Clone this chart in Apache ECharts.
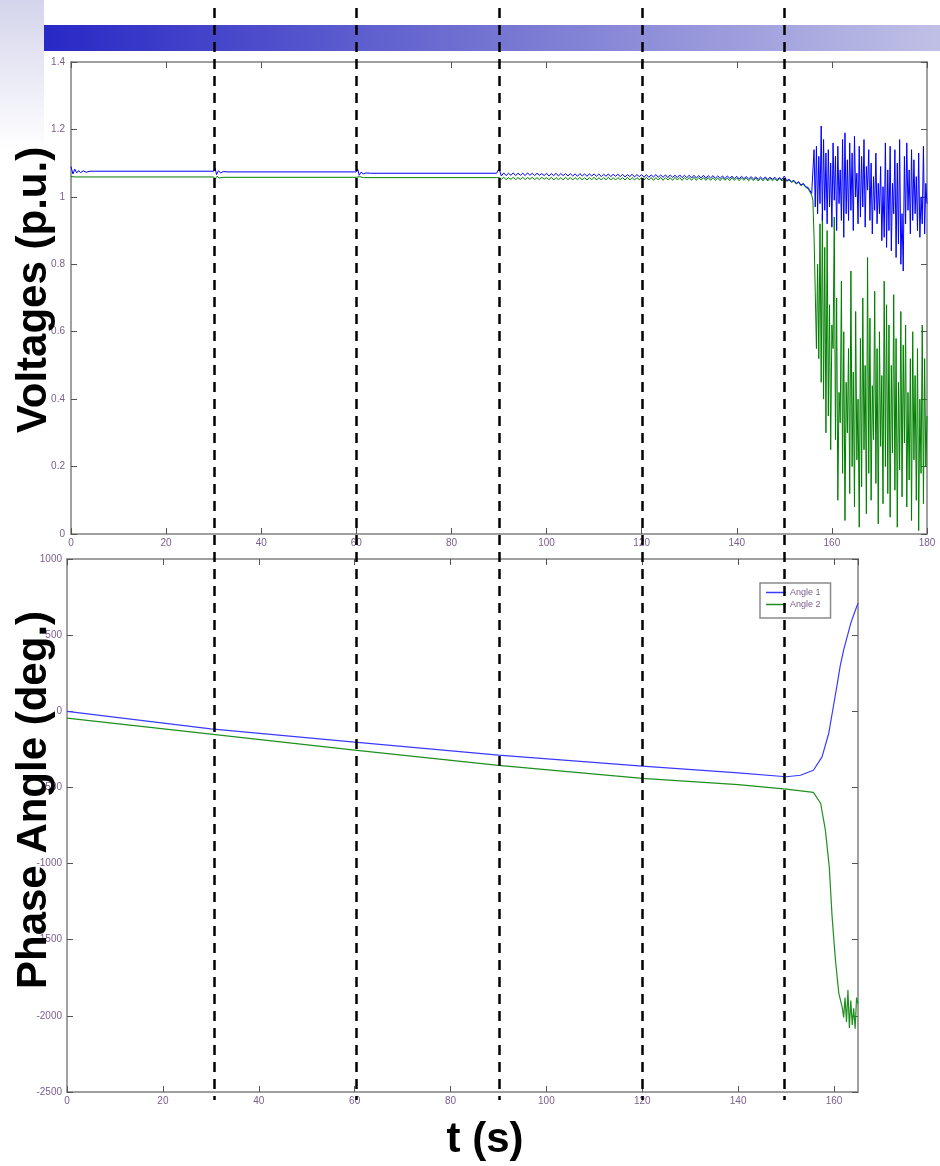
<!DOCTYPE html>
<html>
<head>
<meta charset="utf-8">
<title>Voltages and Phase Angles</title>
<script src="https://cdn.jsdelivr.net/npm/echarts@6/dist/echarts.min.js"></script>
<style>
  html, body { margin: 0; padding: 0; background: #ffffff; }
  #chart { width: 940px; height: 1166px; }
</style>
</head>
<body>
<div id="chart"></div>
<script>
// ---- Voltage traces (p.u.) ----
// Quiet period 0-90 s: sparse samples (time, value)
const volt1EarlyT = [0, 0.4, 0.8, 1.2, 1.6, 2.0, 2.6, 3.2, 4, 5, 30, 30.3, 30.6, 31, 31.5, 32, 33, 60, 60.3, 60.6, 61, 61.5, 62, 63, 89.5];
const volt1Early  = [1.090, 1.068, 1.082, 1.071, 1.078, 1.072, 1.077, 1.073, 1.076, 1.076, 1.076, 1.086, 1.066, 1.077, 1.071, 1.075, 1.074, 1.074, 1.082, 1.064, 1.073, 1.068, 1.071, 1.070, 1.070];
const volt2EarlyT = [0, 1, 30, 30.3, 30.7, 31.2, 32, 60, 60.3, 60.7, 61.5, 89.5];
const volt2Early  = [1.060, 1.059, 1.059, 1.053, 1.061, 1.056, 1.058, 1.058, 1.054, 1.060, 1.057, 1.057];

// Oscillating period 90-155 s, sampled every 0.5 s
const oscStart = 90, oscStep = 0.5;
const volt1Osc = [
  1.083, 1.062, 1.071, 1.063, 1.070, 1.064, 1.071, 1.063, 1.070, 1.064,
  1.070, 1.063, 1.071, 1.064, 1.070, 1.063, 1.070, 1.064, 1.069, 1.063,
  1.070, 1.062, 1.069, 1.063, 1.070, 1.062, 1.069, 1.063, 1.069, 1.062,
  1.069, 1.062, 1.068, 1.061, 1.069, 1.062, 1.068, 1.061, 1.068, 1.062,
  1.068, 1.061, 1.068, 1.060, 1.067, 1.061, 1.068, 1.060, 1.067, 1.061,
  1.067, 1.060, 1.067, 1.059, 1.066, 1.060, 1.067, 1.059, 1.066, 1.060,
  1.066, 1.058, 1.066, 1.058, 1.065, 1.059, 1.066, 1.058, 1.065, 1.058,
  1.065, 1.057, 1.065, 1.058, 1.064, 1.057, 1.065, 1.057, 1.064, 1.057,
  1.064, 1.056, 1.064, 1.056, 1.063, 1.056, 1.064, 1.055, 1.063, 1.056,
  1.063, 1.055, 1.062, 1.055, 1.062, 1.054, 1.062, 1.055, 1.061, 1.054,
  1.061, 1.053, 1.061, 1.054, 1.060, 1.053, 1.060, 1.053, 1.059, 1.052,
  1.059, 1.052, 1.059, 1.051, 1.058, 1.052, 1.058, 1.051, 1.057, 1.051,
  1.062, 1.048, 1.052, 1.045, 1.049, 1.040, 1.045, 1.035, 1.040, 1.030,
  1.028
];
const volt2Osc = [
  1.057, 1.052, 1.058, 1.051, 1.057, 1.052, 1.058, 1.051, 1.057, 1.052,
  1.058, 1.051, 1.057, 1.052, 1.058, 1.051, 1.057, 1.051, 1.058, 1.052,
  1.057, 1.051, 1.058, 1.050, 1.057, 1.051, 1.057, 1.050, 1.058, 1.051,
  1.057, 1.050, 1.057, 1.051, 1.058, 1.050, 1.057, 1.050, 1.057, 1.051,
  1.058, 1.050, 1.057, 1.050, 1.057, 1.051, 1.058, 1.050, 1.057, 1.050,
  1.057, 1.051, 1.057, 1.050, 1.058, 1.050, 1.057, 1.050, 1.057, 1.051,
  1.057, 1.050, 1.058, 1.050, 1.057, 1.049, 1.057, 1.050, 1.058, 1.049,
  1.057, 1.050, 1.057, 1.049, 1.058, 1.050, 1.057, 1.049, 1.057, 1.050,
  1.057, 1.049, 1.058, 1.049, 1.057, 1.050, 1.057, 1.049, 1.057, 1.049,
  1.057, 1.049, 1.056, 1.048, 1.057, 1.049, 1.056, 1.048, 1.057, 1.049,
  1.056, 1.048, 1.056, 1.049, 1.056, 1.048, 1.055, 1.048, 1.056, 1.047,
  1.055, 1.048, 1.055, 1.047, 1.055, 1.048, 1.054, 1.047, 1.055, 1.047,
  1.054, 1.046, 1.050, 1.043, 1.047, 1.038, 1.043, 1.033, 1.038, 1.028,
  1.024
];

// Collapse 155.25-180 s, sampled every 0.25 s
const chaosStart = 155.25, chaosStep = 0.25;
const volt1Chaos = [
  1.022, 1.025, 1.010, 1.005, 1.14, 0.97, 1.15, 0.95, 1.12, 0.98, 1.21, 0.93,
  1.17, 0.96, 1.13, 0.92, 1.14, 0.97, 1.10, 0.91, 1.16, 0.99, 1.12, 0.90,
  1.15, 0.98, 1.08, 0.93, 1.17, 0.88, 1.19, 0.95, 1.11, 0.93, 1.16, 0.96,
  1.13, 0.90, 1.18, 1.00, 1.07, 0.92, 1.15, 0.94, 1.12, 0.97, 1.17, 0.91,
  1.09, 1.02, 1.14, 0.93, 1.10, 0.89, 1.06, 0.96, 1.13, 0.92, 1.04, 0.95,
  1.09, 0.87, 1.03, 0.88, 1.16, 0.85, 1.08, 0.90, 1.15, 0.84, 1.04, 0.95,
  1.14, 0.82, 1.10, 0.86, 1.17, 0.80, 0.95, 0.78, 1.12, 0.92, 1.16, 0.96,
  1.08, 0.89, 1.14, 0.93, 1.11, 0.95, 1.06, 0.90, 1.13, 0.88, 1.00, 0.92,
  1.15, 0.89, 1.04, 0.98
];
const volt2Chaos = [
  1.018, 1.020, 1.005, 0.99, 0.88, 0.72, 0.55, 0.80, 0.52, 0.92, 0.45, 0.95,
  0.40, 0.85, 0.30, 0.90, 0.35, 0.68, 0.25, 0.62, 0.55, 0.94, 0.28, 0.70,
  0.10, 0.42, 0.33, 0.75, 0.18, 0.60, 0.04, 0.45, 0.30, 0.55, 0.12, 0.78,
  0.20, 0.48, 0.08, 0.66, 0.22, 0.40, 0.02, 0.58, 0.14, 0.70, 0.25, 0.50,
  0.06, 0.82, 0.18, 0.64, 0.10, 0.44, 0.28, 0.72, 0.15, 0.55, 0.03, 0.60,
  0.26, 0.47, 0.09, 0.75, 0.20, 0.68, 0.12, 0.62, 0.05, 0.50, 0.24, 0.71,
  0.13, 0.58, 0.02, 0.45, 0.19, 0.66, 0.11, 0.56, 0.27, 0.62, 0.08, 0.42,
  0.16, 0.52, 0.04, 0.60, 0.22, 0.47, 0.10, 0.55, 0.01, 0.40, 0.18, 0.62,
  0.09, 0.52, 0.20, 0.35
];

// ---- Phase angle traces (deg.) ----
const angle1T = [0, 30, 60, 90, 120, 140, 150, 153, 155.7, 157.5, 158.9, 159.8, 160.7, 161.3, 162, 163.5, 164.3, 165];
const angle1  = [0, -115, -202, -288, -360, -404, -430, -420, -387, -299, -144, 20, 185, 300, 402, 579, 650, 710];
const angle2T = [0, 30, 60, 90, 120, 140, 150, 155.7, 157.2, 158.2, 159, 159.6, 160.3, 161, 161.7, 162.0, 162.3, 162.6, 162.9, 163.2, 163.5, 163.8, 164.1, 164.4, 164.7, 165];
const angle2  = [-45, -150, -255, -355, -440, -481, -511, -533, -604, -781, -1020, -1350, -1635, -1852, -1942, -2010, -1880, -2040, -1830, -2080, -1900, -2060, -1950, -2085, -1880, -1920];

// ---- Axes and annotations ----
const voltTicks = { min: 0, max: 1.4, interval: 0.2 };
const voltTime  = { min: 0, max: 180, interval: 20 };
const angleTicks = { min: -2500, max: 1000, interval: 500 };
const angleTime  = { min: 0, max: 165, interval: 20 };
const eventTimes = [30, 60, 90, 120, 150];
const seriesNames = ['Volt 1', 'Volt 2', 'Angle 1', 'Angle 2'];

function zip(ts, vs) { return ts.map((t, i) => [t, vs[i]]); }
function sampled(start, step, vs) { return vs.map((v, i) => [+(start + i * step).toFixed(3), v]); }

const volt1Data = zip(volt1EarlyT, volt1Early)
  .concat(sampled(oscStart, oscStep, volt1Osc))
  .concat(sampled(chaosStart, chaosStep, volt1Chaos));
const volt2Data = zip(volt2EarlyT, volt2Early)
  .concat(sampled(oscStart, oscStep, volt2Osc))
  .concat(sampled(chaosStart, chaosStep, volt2Chaos));

const AXIS_GRAY = '#808080';
const LABEL_COLOR = '#7a6090';
const LABEL_FONT = 'Liberation Sans, Arial, sans-serif';

function plainNumber(v) { return String(+v.toFixed(6)); }

function axisBase(range, opts) {
  return Object.assign({
    type: 'value',
    min: range.min, max: range.max, interval: range.interval,
    splitLine: { show: false },
    axisLine: { show: true, onZero: false, lineStyle: { color: AXIS_GRAY, width: 1.5 } },
    axisTick: { show: true, inside: true, length: 6, lineStyle: { color: '#555555', width: 1 } },
    axisLabel: { show: true, color: LABEL_COLOR, fontSize: 10, fontFamily: LABEL_FONT, margin: 4, formatter: plainNumber }
  }, opts || {});
}
function mirror(range, position, gridIndex) {
  return axisBase(range, { position: position, gridIndex: gridIndex, axisLabel: { show: false } });
}

const chart = echarts.init(document.getElementById('chart'), null, { renderer: 'canvas' });

const option = {
  animation: false,
  backgroundColor: '#ffffff',
  grid: [
    { left: 71, top: 62, width: 856, height: 472 },
    { left: 67, top: 559, width: 791, height: 533 }
  ],
  xAxis: [
    axisBase(voltTime, { gridIndex: 0, position: 'bottom' }),
    mirror(voltTime, 'top', 0),
    axisBase(angleTime, { gridIndex: 1, position: 'bottom',
      axisLabel: { color: LABEL_COLOR, fontSize: 10, fontFamily: LABEL_FONT, margin: 4,
        showMaxLabel: false, formatter: v => (v % 20 === 0 ? String(v) : '') } }),
    mirror(angleTime, 'top', 1)
  ],
  yAxis: [
    axisBase(voltTicks, { gridIndex: 0, position: 'left',
      axisLabel: { color: LABEL_COLOR, fontSize: 10, fontFamily: LABEL_FONT, margin: 6, formatter: plainNumber } }),
    mirror(voltTicks, 'right', 0),
    axisBase(angleTicks, { gridIndex: 1, position: 'left',
      axisLabel: { color: LABEL_COLOR, fontSize: 10, fontFamily: LABEL_FONT, margin: 5, formatter: plainNumber } }),
    mirror(angleTicks, 'right', 1)
  ],
  legend: {
    data: ['Angle 1', 'Angle 2'],
    left: 760, top: 583,
    orient: 'vertical',
    icon: 'rect',
    itemWidth: 20, itemHeight: 1.5, itemGap: 3,
    padding: [5, 10, 9, 6],
    borderColor: '#8a8a8a', borderWidth: 1.5, backgroundColor: '#ffffff',
    textStyle: { color: LABEL_COLOR, fontSize: 9, fontFamily: LABEL_FONT, padding: [0, 0, 0, -1] }
  },
  series: [
    { name: seriesNames[0], type: 'line', xAxisIndex: 0, yAxisIndex: 0, data: volt1Data, showSymbol: false, symbol: 'none',
      lineStyle: { color: '#0000ff', width: 1 }, itemStyle: { color: '#0000ff' }, z: 3 },
    { name: seriesNames[1], type: 'line', xAxisIndex: 0, yAxisIndex: 0, data: volt2Data, showSymbol: false, symbol: 'none',
      lineStyle: { color: '#008000', width: 1 }, itemStyle: { color: '#008000' }, z: 2 },
    { name: seriesNames[2], type: 'line', xAxisIndex: 2, yAxisIndex: 2, data: zip(angle1T, angle1), showSymbol: false, symbol: 'none',
      lineStyle: { color: '#3a3aff', width: 1.2 }, itemStyle: { color: '#3a3aff' } },
    { name: seriesNames[3], type: 'line', xAxisIndex: 2, yAxisIndex: 2, data: zip(angle2T, angle2), showSymbol: false, symbol: 'none',
      lineStyle: { color: '#1f8f1f', width: 1.2 }, itemStyle: { color: '#1f8f1f' } }
  ]
};
chart.setOption(option);

// Slide-style header band, axis titles and event markers
const titleFont = 'bold 42px "Liberation Sans", Arial, sans-serif';
const graphics = [
  { type: 'rect', shape: { x: 0, y: 0, width: 44, height: 150 }, z: 0, silent: true,
    style: { fill: new echarts.graphic.LinearGradient(0, 0, 0, 1, [
      { offset: 0, color: '#d4d4ec' }, { offset: 1, color: '#ffffff' }]) } },
  { type: 'rect', shape: { x: 44, y: 25, width: 896, height: 26 }, z: 1, silent: true,
    style: { fill: new echarts.graphic.LinearGradient(0, 0, 1, 0, [
      { offset: 0, color: '#2828c6' }, { offset: 0.5, color: '#7474d2' }, { offset: 1, color: '#c0c0e6' }]) } },
  { type: 'text', x: 34, y: 290, rotation: Math.PI / 2, z: 50, silent: true,
    style: { text: 'Voltages (p.u.)', font: titleFont, fill: '#000000', align: 'center', verticalAlign: 'middle' } },
  { type: 'text', x: 34, y: 800, rotation: Math.PI / 2, z: 50, silent: true,
    style: { text: 'Phase Angle (deg.)', font: titleFont, fill: '#000000', align: 'center', verticalAlign: 'middle' } },
  { type: 'text', x: 485, y: 1140, z: 50, silent: true,
    style: { text: 't (s)', font: titleFont, fill: '#000000', align: 'center', verticalAlign: 'middle' } }
];
eventTimes.forEach(t => {
  const px = Math.round(chart.convertToPixel({ xAxisIndex: 0 }, t)) + 0.5;
  graphics.push({ type: 'line', z: 40, silent: true,
    shape: { x1: px, y1: 8, x2: px, y2: 1100 },
    style: { stroke: '#000000', lineWidth: 2.5, lineDash: [10, 7] } });
});
chart.setOption({ graphic: graphics });
</script>
</body>
</html>
